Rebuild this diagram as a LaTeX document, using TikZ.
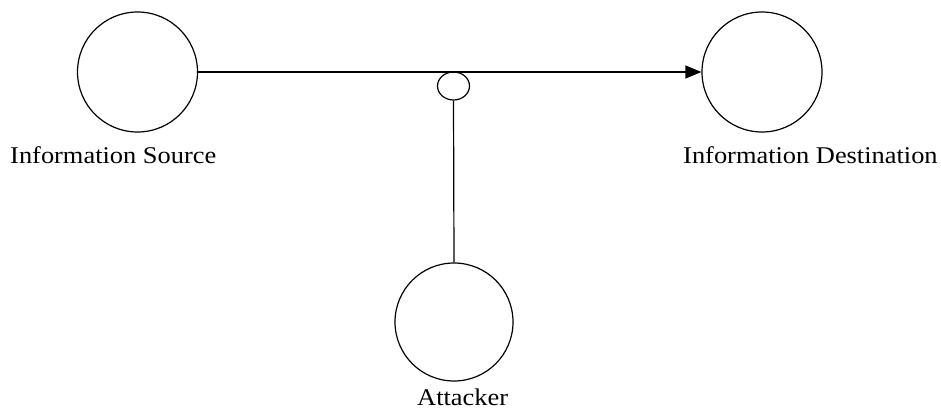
\documentclass[tikz,border=0pt]{standalone}
\usepackage{fontspec}
\setmainfont{Liberation Serif}
\usetikzlibrary{arrows.meta,shapes.geometric}
\begin{document}
\begin{tikzpicture}[x=1pt,y=-1pt,
  party/.style={draw,circle,line width=1.2pt,minimum size=120pt,inner sep=0pt},
  tap/.style={draw,ellipse,line width=1.2pt,minimum width=32pt,minimum height=28pt,inner sep=0pt},
  caption/.style={font=\fontsize{24}{28}\selectfont,inner sep=0pt,anchor=base west,xscale=1.1,transform shape},
  link/.style={line width=1.2pt}]
\useasboundingbox (0,0) rectangle (941,412);
% parties
\node[party] (src) at (137.5,72) {};
\node[party] (dst) at (762,72) {};
\node[party,minimum size=118pt] (att) at (454,322) {};
% interception point on the channel
\node[tap] (tapnode) at (453.5,86) {};
% captions
\node[caption] (srclbl) at (10,163) {Information Source};
\node[caption] (dstlbl) at (683,163) {Information Destination};
\node[caption] (attlbl) at (417,405) {Attacker};
% channel and tap line
\draw[link,-{Triangle[length=16pt,width=13pt]}] (src.east) -- (dst.west);
\draw[link] (tapnode.south) -- (att.north);
\end{tikzpicture}
\end{document}
